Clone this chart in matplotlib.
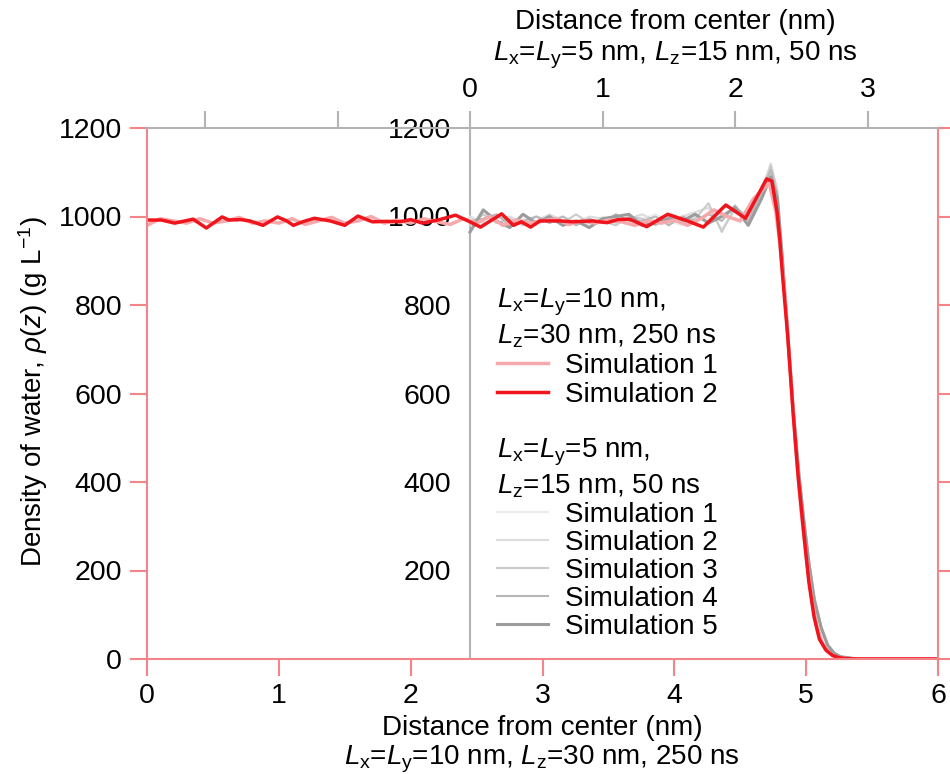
import matplotlib
matplotlib.use("Agg")
import matplotlib.pyplot as plt

plt.rcParams['font.family'] = ['Liberation Sans', 'DejaVu Sans']
plt.rcParams['mathtext.fontset'] = 'custom'
plt.rcParams['mathtext.rm'] = 'Liberation Sans'
plt.rcParams['mathtext.it'] = 'Liberation Sans:italic'
plt.rcParams['mathtext.bf'] = 'Liberation Sans:bold'

# ---------------- data ----------------
# Large box (Lx=Ly=10 nm, Lz=30 nm, 250 ns), bottom axis (nm)
x_big_sim1 = [0.0, 0.1, 0.2, 0.3, 0.4, 0.5, 0.6, 0.7, 0.8, 0.9, 1.0, 1.1, 1.2, 1.3, 1.4, 1.5,
              1.6, 1.7, 1.8, 1.9, 2.0, 2.1, 2.2, 2.3, 2.4, 2.5, 2.6, 2.7, 2.8, 2.9, 3.0, 3.1,
              3.2, 3.3, 3.4, 3.5, 3.6, 3.7, 3.8, 3.9, 4.0, 4.1, 4.2, 4.3, 4.4, 4.5, 4.6,
              4.72, 4.77, 4.80, 4.84, 4.88, 4.92, 4.96, 5.0, 5.04, 5.08, 5.12, 5.17, 5.22,
              5.3, 5.4, 6.0]
y_big_sim1 = [980, 995, 990, 985, 995, 985, 990, 998, 985, 990, 985, 995, 982, 990, 998, 985,
              990, 1000, 985, 992, 985, 995, 988, 982, 995, 985, 1000, 980, 992, 985, 990, 995,
              982, 990, 985, 992, 988, 980, 990, 985, 992, 980, 995, 1015, 1000, 990, 1040,
              1075, 1010, 940, 820, 650, 480, 340, 230, 140, 75, 38, 15, 5,
              1, 0, 0]

x_big_sim2 = [0.0, 0.11, 0.21, 0.35, 0.45, 0.57, 0.62, 0.71, 0.78, 0.88, 0.99, 1.06, 1.11,
              1.18, 1.27, 1.39, 1.50, 1.60, 1.71, 1.82, 1.92, 2.0, 2.09, 2.22, 2.34, 2.45,
              2.53, 2.69, 2.78, 2.84, 2.91, 2.98, 3.13, 3.23, 3.38, 3.49, 3.57, 3.66, 3.79,
              3.95, 4.10, 4.22, 4.39, 4.54, 4.70, 4.74, 4.78, 4.80, 4.82, 4.86, 4.90, 4.94,
              4.98, 5.02, 5.06, 5.10, 5.15, 5.20, 5.25, 5.30, 5.40, 6.0]
y_big_sim2 = [992, 992, 985, 994, 974, 999, 992, 993, 990, 980, 999, 990, 980,
              988, 996, 990, 980, 1001, 988, 989, 988, 993, 985, 993, 1003, 988,
              976, 1006, 980, 988, 976, 990, 990, 988, 990, 986, 993, 994, 977,
              1005, 990, 976, 1026, 996, 1085, 1080, 1008, 947, 870, 730, 560, 410,
              290, 175, 95, 45, 20, 8, 3, 1, 0, 0]

# Small box (Lx=Ly=5 nm, Lz=15 nm, 50 ns), top axis (nm)
x_small = [0.0, 0.1, 0.2, 0.3, 0.4, 0.5, 0.6, 0.7, 0.8, 0.9, 1.0, 1.1, 1.2, 1.3, 1.4, 1.5,
           1.6, 1.7, 1.8, 1.9, 2.0, 2.1, 2.2, 2.27, 2.32, 2.36, 2.40, 2.44, 2.48, 2.52,
           2.56, 2.60, 2.65, 2.70, 2.75, 2.80, 2.90, 3.0, 3.2, 3.55]
y_small_sim1 = [995, 980, 1000, 990, 995, 980, 995, 1000, 990, 980, 1000, 990, 985, 995, 1005,
                990, 980, 1000, 995, 1005, 1010, 995, 1045, 1095, 1040, 895, 730, 565, 425,
                312, 212, 132, 70, 31, 12, 5, 1, 0, 0, 0]
y_small_sim2 = [1000, 985, 995, 1000, 985, 990, 1005, 990, 985, 1000, 995, 985, 995, 1005, 990,
                985, 1000, 1010, 1020, 970, 1015, 985, 1060, 1120, 1060, 910, 745, 580, 440,
                322, 222, 140, 76, 34, 14, 5, 1, 0, 0, 0]
y_small_sim3 = [980, 1005, 985, 995, 980, 1000, 990, 985, 1005, 985, 990, 980, 1000, 995, 980,
                1000, 985, 995, 1030, 965, 1020, 1000, 1050, 1115, 1055, 905, 740, 575, 435,
                318, 218, 138, 74, 33, 14, 5, 1, 0, 0, 0]
y_small_sim4 = [990, 995, 1005, 980, 990, 1000, 985, 1000, 980, 995, 985, 1005, 990, 990, 1000,
                980, 1000, 990, 1005, 990, 1025, 990, 1055, 1105, 1045, 900, 735, 570, 430,
                315, 215, 135, 72, 32, 13, 5, 1, 0, 0, 0]
y_small_sim5 = [965, 1015, 990, 975, 1005, 985, 1000, 980, 990, 975, 995, 1000, 1005, 980, 985,
                995, 990, 1005, 985, 1000, 1020, 980, 1040, 1090, 1040, 890, 720, 560, 420,
                310, 210, 130, 70, 30, 12, 5, 1, 0, 0, 0]

sim_labels = ['Simulation 1', 'Simulation 2', 'Simulation 3', 'Simulation 4', 'Simulation 5']
bottom_ticks = [0, 1, 2, 3, 4, 5, 6]
top_ticks = [-2, -1, 0, 1, 2, 3]
top_ticklabels = ['', '', '0', '1', '2', '3']
y_ticks = [0, 200, 400, 600, 800, 1000, 1200]
inner_y_ticks = [200, 400, 600, 800, 1000, 1200]

# ---------------- style ----------------
RED = '#f0141c'
PINK = '#f6a9ac'
SPINE_RED = '#f3858a'
AXGRAY = '#b3b3b3'
grays = ['#ececec', '#dcdcdc', '#cbcbcb', '#b8b8b8', '#9c9c9c']
gray_lw = [1.5, 1.5, 1.5, 1.5, 2.2]
FS = 20
TFS = 20.5

fig = plt.figure(figsize=(9.5, 7.74), dpi=100)
rect = [147 / 950, 1 - 659 / 774, (938 - 147) / 950, (659 - 128) / 774]

top_lim = (-2.438, 3.532)

# inner gray y axis (lowest layer)
ax3 = fig.add_axes(rect, label='inner')
ax3.set_xlim(*top_lim)
ax3.set_ylim(0, 1200)
for s in ['top', 'right', 'bottom']:
    ax3.spines[s].set_visible(False)
ax3.spines['left'].set_position(('data', 0))
ax3.spines['left'].set_color(AXGRAY)
ax3.spines['left'].set_linewidth(1.5)
ax3.set_xticks([])
ax3.set_yticks(inner_y_ticks)
ax3.tick_params(axis='y', length=0, pad=13.5, labelsize=TFS)
ax3.set_zorder(0)

# main (bottom) axes
ax = fig.add_axes(rect, label='main')
ax.set_zorder(2)
ax.patch.set_visible(False)

# top twin axes
ax2 = ax.twiny()
ax2.set_zorder(1)
ax2.patch.set_visible(False)

small_series = [y_small_sim1, y_small_sim2, y_small_sim3, y_small_sim4, y_small_sim5]
gray_handles = []
for ys, c, lw, lab in zip(small_series, grays, gray_lw, sim_labels):
    h, = ax2.plot(x_small, ys, color=c, lw=lw, label=lab)
    gray_handles.append(h)

h1, = ax.plot(x_big_sim1, y_big_sim1, color=PINK, lw=2.5, label='Simulation 1')
h2, = ax.plot(x_big_sim2, y_big_sim2, color=RED, lw=2.5, label='Simulation 2')

ax.set_xlim(0, 6)
ax.set_ylim(0, 1200)
ax2.set_xlim(*top_lim)
ax2.set_ylim(0, 1200)

ax.set_xticks(bottom_ticks)
ax.set_yticks(y_ticks)
for s in ['left', 'right', 'bottom']:
    ax.spines[s].set_color(SPINE_RED)
    ax.spines[s].set_linewidth(1.5)
ax.spines['top'].set_color(AXGRAY)
ax.spines['top'].set_linewidth(1.5)
ax.tick_params(axis='x', which='both', direction='out', length=12, width=1.5,
               color=SPINE_RED, labelsize=TFS, pad=5, top=False)
ax.tick_params(axis='y', which='both', direction='out', length=12, width=1.5,
               color=SPINE_RED, labelsize=TFS, pad=6, left=True, right=True,
               labelright=False)

for s in ['left', 'right', 'bottom', 'top']:
    ax2.spines[s].set_visible(False)
ax2.set_xticks(top_ticks)
ax2.set_xticklabels(top_ticklabels)
ax2.tick_params(axis='x', direction='out', length=12, width=1.5, color=AXGRAY,
                labelsize=TFS, pad=6)

# axis labels
fig.text(33 / 950, 1 - 392 / 774, r'Density of water, $\rho(z)$ (g L$^{\mathrm{-1}}$)',
         rotation=90, ha='center', va='center', fontsize=FS)
fig.text(542 / 950, 1 - 745 / 774,
         'Distance from center (nm)\n'
         r'$L_{\mathrm{x}}$=$L_{\mathrm{y}}$=10 nm, $L_{\mathrm{z}}$=30 nm, 250 ns',
         ha='center', va='center', fontsize=FS, linespacing=1.15)
fig.text(675 / 950, 1 - 40 / 774,
         'Distance from center (nm)\n'
         r'$L_{\mathrm{x}}$=$L_{\mathrm{y}}$=5 nm, $L_{\mathrm{z}}$=15 nm, 50 ns',
         ha='center', va='center', fontsize=FS, linespacing=1.2)

# legends
leg_kw = dict(loc='upper left', bbox_transform=fig.transFigure, frameon=False,
              fontsize=FS, title_fontsize=FS, handlelength=1.85, handletextpad=0.6,
              labelspacing=0.1, borderpad=0, borderaxespad=0, alignment='left')
leg1 = ax.legend([h1, h2], ['Simulation 1', 'Simulation 2'],
                 title='$L_{\\mathrm{x}}$=$L_{\\mathrm{y}}$=10 nm,\n$L_{\\mathrm{z}}$=30 nm, 250 ns',
                 bbox_to_anchor=(497 / 950, 1 - 287 / 774), **leg_kw)
ax.add_artist(leg1)
leg2 = ax.legend(gray_handles, sim_labels,
                 title='$L_{\\mathrm{x}}$=$L_{\\mathrm{y}}$=5 nm,\n$L_{\\mathrm{z}}$=15 nm, 50 ns',
                 bbox_to_anchor=(497 / 950, 1 - 437 / 774),
                 **{**leg_kw, 'labelspacing': 0.07})

fig.savefig('out.png', dpi=100)
